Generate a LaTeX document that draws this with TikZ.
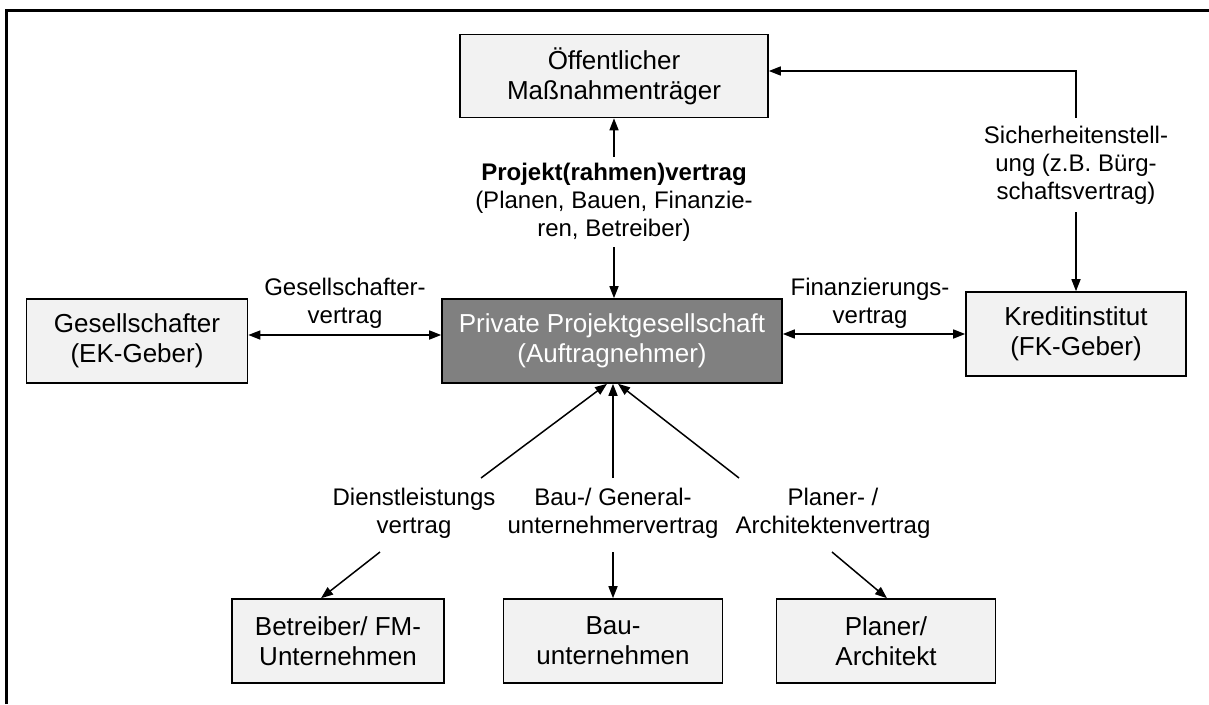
\documentclass[tikz,border=0pt]{standalone}
\usepackage{fontspec}
\setmainfont{Liberation Sans}
\usetikzlibrary{arrows.meta,calc}
\definecolor{boxfill}{HTML}{F2F2F2}
\definecolor{darkfill}{HTML}{808080}
\begin{document}
\begin{tikzpicture}[x=1pt,y=-1pt,
  box/.style={draw=black,line width=1.6pt,fill=boxfill,align=center,inner sep=0pt,
    minimum height=84pt,font=\fontsize{26}{30}\selectfont},
  lbl/.style={align=center,inner sep=7pt,font=\fontsize{24}{28}\selectfont},
  tip/.style={-{Triangle[length=12pt,width=9pt]}},
  arr/.style={line width=1.5pt,tip},
  darr/.style={line width=1.5pt,{Triangle[length=12pt,width=9pt]}-{Triangle[length=12pt,width=9pt]}}]

\useasboundingbox (0,0) rectangle (1209,704);
\fill[white] (0,0) rectangle (1209,704);
\draw[line width=3pt] (6,704) -- (6,10) -- (1209,10);

% boxes
\node[box,minimum width=308pt,minimum height=83pt] (oeff) at (614,76) {Öffentlicher\\Maßnahmenträger};
\node[box,minimum width=221pt] (ges) at (137,341) {Gesellschafter\\(EK-Geber)};
\node[box,minimum width=340pt,fill=darkfill,text=white] (priv) at (612,341) {Private Projektgesellschaft\\(Auftragnehmer)};
\node[box,minimum width=220pt] (kred) at (1076,334) {Kreditinstitut\\(FK-Geber)};
\node[box,minimum width=212pt] (betr) at (338,641) {Betreiber/ FM-\\Unternehmen};
\node[box,minimum width=219pt] (bau) at (613,641) {Bau-\\unternehmen};
\node[box,minimum width=219pt] (plan) at (886,641) {Planer/\\Architekt};

% labels
\node[lbl,inner sep=6pt] (proj) at (614,202) {\textbf{Projekt(rahmen)vertrag}\\(Planen, Bauen, Finanzie-\\ren, Betreiber)};
\node[lbl,inner sep=8pt] (sich) at (1076,165) {Sicherheitenstell-\\ung (z.B. Bürg-\\schaftsvertrag)};
\node[lbl] (gv) at (345,303) {Gesellschafter-\\vertrag};
\node[lbl] (fv) at (870,303) {Finanzierungs-\\vertrag};
\node[lbl] (dl) at (414,513) {Dienstleistungs\\vertrag};
\node[lbl] (bg) at (613,513) {Bau-/ General-\\unternehmervertrag};
\node[lbl] (pa) at (833,513) {Planer- /\\Architektenvertrag};

% free ends of the diagonal connectors
\coordinate (dlA) at (481,478);
\coordinate (bgA) at (613,478);
\coordinate (paA) at (739,478);
\coordinate (dlB) at (380,552);
\coordinate (bgB) at (613,552);
\coordinate (paB) at (832,552);

% connectors
\draw[arr] (proj.north) -- (proj.north |- oeff.south);
\draw[arr] (proj.south) -- (proj.south |- priv.north);
\draw[arr] (sich.north) |- ([yshift=5pt]oeff.east);
\draw[arr] (sich.south) -- (kred.north);
\draw[darr] ([yshift=6pt]ges.east) -- ([yshift=6pt]priv.west);
\draw[darr] (priv.east |- kred.west) -- (kred.west);

\draw[arr] (dlA) -- ([xshift=-5pt]priv.south);
\draw[arr] (bgA) -- (bgA |- priv.south);
\draw[arr] (paA) -- ([xshift=6pt]priv.south);

\draw[arr] (dlB) -- ([xshift=-17pt]betr.north);
\draw[arr] (bgB) -- (bgB |- bau.north);
\draw[arr] (paB) -- ([xshift=1pt]plan.north);
\end{tikzpicture}
\end{document}
